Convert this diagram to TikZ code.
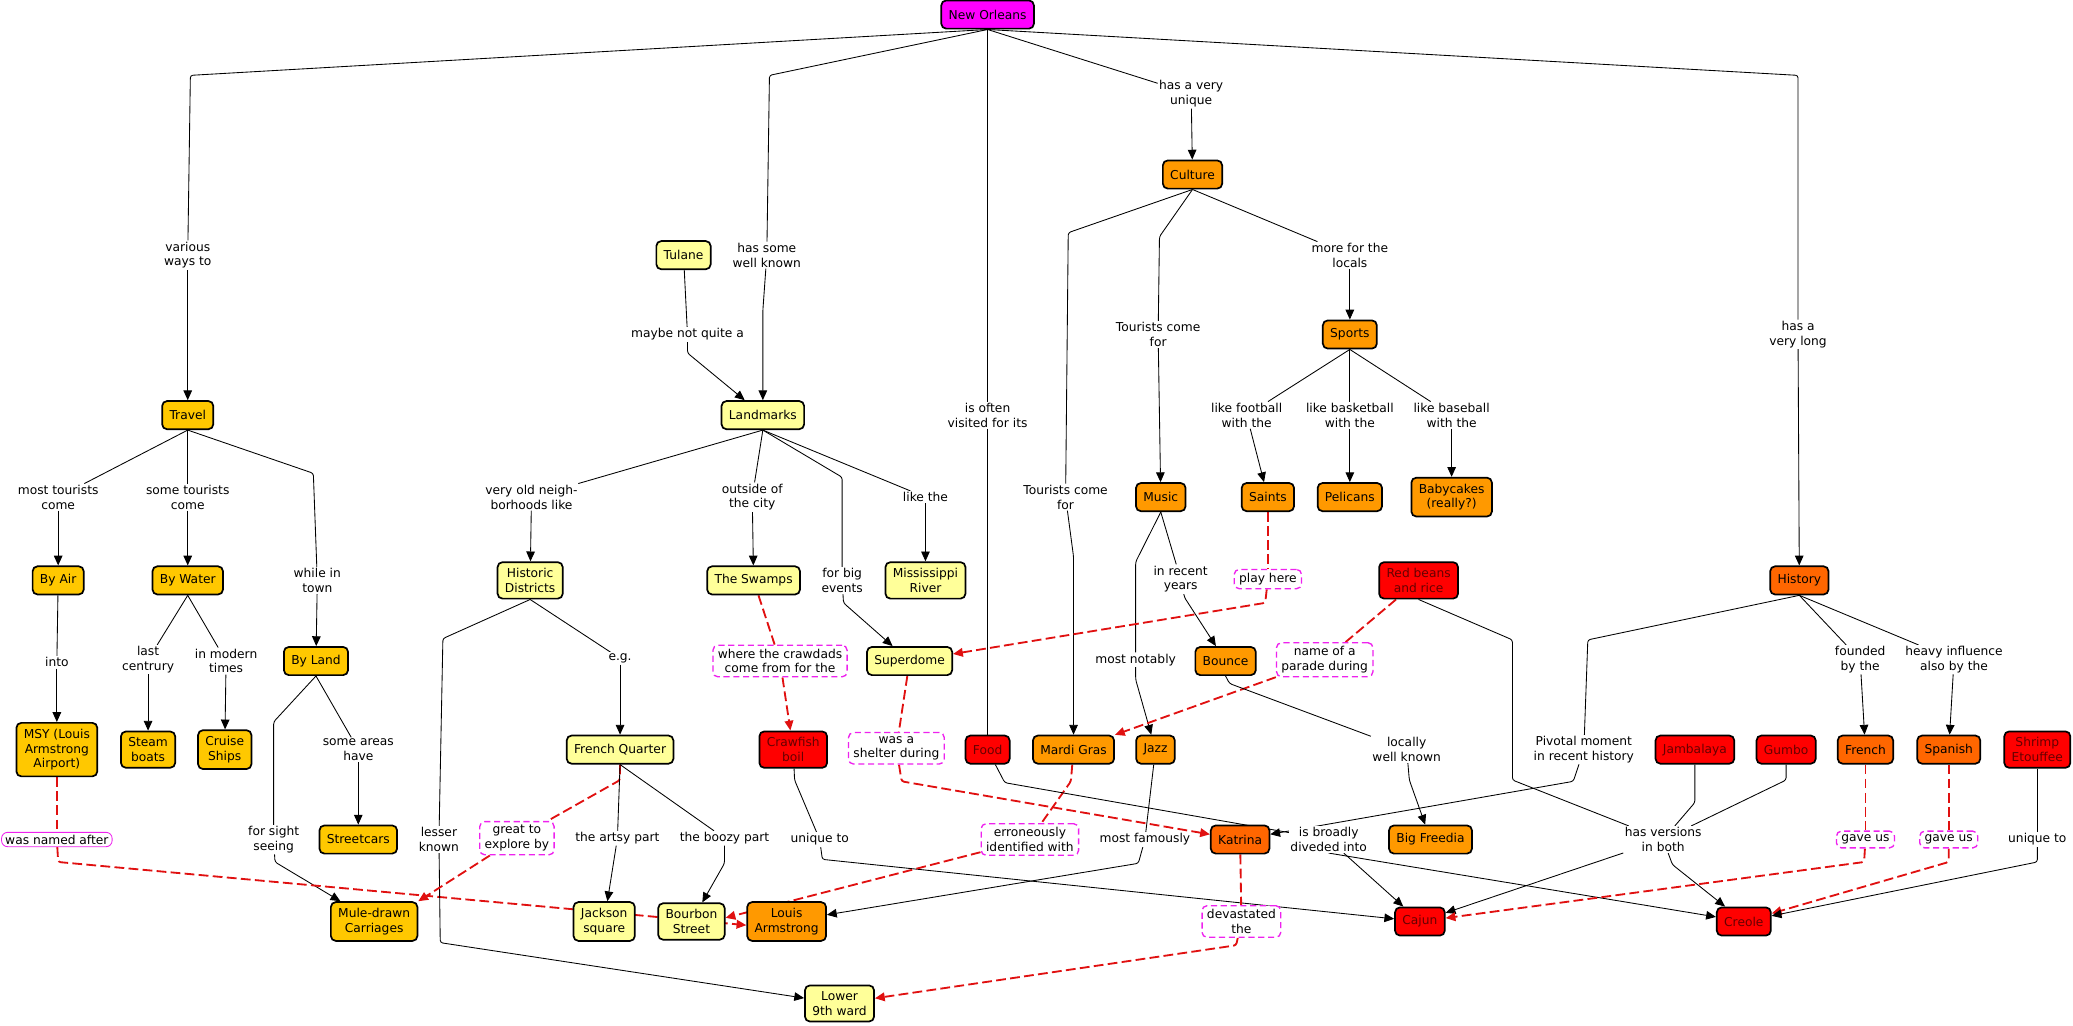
\documentclass[tikz,border=0pt]{standalone}
\usepackage{fontspec}
\setmainfont{DejaVu Sans}
\usetikzlibrary{arrows.meta, backgrounds}
\definecolor{nolaMag}{HTML}{FF00FF}
\definecolor{goldC}{HTML}{FFC800}
\definecolor{paleC}{HTML}{FFFF99}
\definecolor{orangeC}{HTML}{FF9900}
\definecolor{darkOrC}{HTML}{FF6600}
\definecolor{redC}{HTML}{FF0000}
\definecolor{redText}{HTML}{660000}
\definecolor{xMag}{HTML}{EE22EE}
\definecolor{xRed}{HTML}{E01010}
\tikzset{>={Triangle[length=8pt,width=7pt]}}
\tikzstyle{concept} = [rectangle, rounded corners = 4pt, draw = black, line width = 1.4pt, align = center, inner xsep = 6pt, inner ysep = 5pt, minimum height = 23pt]
\tikzstyle{nolaC} = [concept, fill = nolaMag]
\tikzstyle{travelC} = [concept, fill = goldC]
\tikzstyle{placeC} = [concept, fill = paleC]
\tikzstyle{cultC} = [concept, fill = orangeC]
\tikzstyle{histC} = [concept, fill = darkOrC]
\tikzstyle{foodC} = [concept, fill = redC, text = redText]
\tikzstyle{link} = [fill = white, align = center, inner sep = 1pt]
\tikzstyle{xlink} = [rectangle, rounded corners = 4pt, fill = white, draw = xMag, line width = 1.1pt, dash pattern = on 5pt off 3pt, align = center, inner xsep = 4pt, inner ysep = 3pt]
\tikzstyle{namedlink} = [rectangle, rounded corners = 5pt, fill = white, draw = xMag, line width = 0.7pt, align = center, inner xsep = 3pt, inner ysep = 2pt]
\tikzstyle{conn} = [line width = 0.7pt, rounded corners = 2pt]
\tikzstyle{arr} = [conn, ->]
\tikzstyle{xconn} = [xRed, line width = 1.5pt, dash pattern = on 8pt off 3.5pt, rounded corners = 2pt]
\tikzstyle{xarr} = [xconn, -{Triangle[length=8pt,width=7pt]}]
\begin{document}
\begin{tikzpicture}[x = 1.0788pt, y = -1.0788pt]
    \useasboundingbox (0,0) rectangle (1568,776);
    % concepts
    \node (nola) [nolaC] at (747,11) {New Orleans};
    \node (travel) [travelC] at (142,314) {Travel};
    \node (byair) [travelC] at (44,439) {By Air};
    \node (bywater) [travelC] at (142,439) {By Water};
    \node (byland) [travelC] at (239,500) {By Land};
    \node (msy) [travelC] at (43,567) {MSY (Louis\\Armstrong\\Airport)};
    \node (steam) [travelC] at (112,567) {Steam\\boats};
    \node (cruise) [travelC] at (170,567) {Cruise\\Ships};
    \node (streetcars) [travelC] at (271,635) {Streetcars};
    \node (mule) [travelC] at (283,697) {Mule-drawn\\Carriages};
    \node (tulane) [placeC] at (517,193) {Tulane};
    \node (landm) [placeC] at (577,314) {Landmarks};
    \node (histd) [placeC] at (401,439) {Historic\\Districts};
    \node (swamps) [placeC] at (570,439) {The Swamps};
    \node (missriver) [placeC] at (700,439) {Mississippi\\River};
    \node (superdome) [placeC] at (688,500) {Superdome};
    \node (frenchq) [placeC] at (469,567) {French Quarter};
    \node (jackson) [placeC] at (457,697) {Jackson\\square};
    \node (bourbon) [placeC] at (523,697) {Bourbon\\Street};
    \node (lower9) [placeC] at (635,759) {Lower\\9th ward};
    \node (culture) [cultC] at (902,132) {Culture};
    \node (sports) [cultC] at (1021,253) {Sports};
    \node (music) [cultC] at (878,376) {Music};
    \node (saints) [cultC] at (959,376) {Saints};
    \node (pelicans) [cultC] at (1021,376) {Pelicans};
    \node (babycakes) [cultC] at (1098,376) {Babycakes\\(really?)};
    \node (bounce) [cultC] at (927,500) {Bounce};
    \node (mardigras) [cultC] at (812,567) {Mardi Gras};
    \node (jazz) [cultC] at (874,567) {Jazz};
    \node (louis) [cultC] at (595,697) {Louis\\Armstrong};
    \node (bigfreedia) [cultC] at (1082,635) {Big Freedia};
    \node (history) [histC] at (1361,439) {History};
    \node (katrina) [histC] at (938,635) {Katrina};
    \node (french) [histC] at (1411,567) {French};
    \node (spanish) [histC] at (1474,567) {Spanish};
    \node (crawfish) [foodC] at (600,567) {Crawfish\\boil};
    \node (food) [foodC] at (747,567) {Food};
    \node (redbeans) [foodC] at (1073,439) {Red beans\\and rice};
    \node (jambalaya) [foodC] at (1282,567) {Jambalaya};
    \node (gumbo) [foodC] at (1351,567) {Gumbo};
    \node (shrimp) [foodC] at (1541,567) {Shrimp\\Etouffee};
    \node (cajun) [foodC] at (1074,697) {Cajun};
    \node (creole) [foodC] at (1319,697) {Creole};
    % linking phrases
    \node (ways) [link] at (142,193) {various\\ways to};
    \node (wellknown) [link] at (580,193) {has some\\well known};
    \node (visited) [link] at (747,314) {is often\\visited for its};
    \node (unique) [link] at (901,71) {has a very\\unique};
    \node (long) [link] at (1360,253) {has a\\very long};
    \node (mosttour) [link] at (44,376) {most tourists\\come};
    \node (sometour) [link] at (142,376) {some tourists\\come};
    \node (whiletown) [link] at (240,439) {while in\\town};
    \node (into) [link] at (43,501) {into};
    \node (lastcent) [link] at (112,499) {last\\centrury};
    \node (modern) [link] at (171,500) {in modern\\times};
    \node (someareas) [link] at (271,567) {some areas\\have};
    \node (sight) [link] at (207,635) {for sight\\seeing};
    \node (named) [namedlink] at (43,635) {was named after};
    \node (notquite) [link] at (520,253) {maybe not quite a};
    \node (oldneigh) [link] at (402,376) {very old neigh-\\borhoods like};
    \node (outside) [link] at (569,376) {outside of\\the city};
    \node (likethe) [link] at (700,376) {like the};
    \node (bigevents) [link] at (637,439) {for big\\events};
    \node (lesser) [link] at (332,635) {lesser\\known};
    \node (eg) [link] at (469,498) {e.g.};
    \node (explore) [xlink] at (391,634) {great to\\explore by};
    \node (artsy) [link] at (467,634) {the artsy part};
    \node (boozy) [link] at (548,634) {the boozy part};
    \node (crawdads) [xlink] at (590,500) {where the crawdads\\come from for the};
    \node (shelter) [xlink] at (678,566) {was a\\shelter during};
    \node (unique2) [link] at (620,635) {unique to};
    \node (erroneous) [xlink] at (779,635) {erroneously\\identified with};
    \node (tourmusic) [link] at (876,253) {Tourists come\\for};
    \node (tourmardi) [link] at (806,376) {Tourists come\\for};
    \node (locals) [link] at (1021,193) {more for the\\locals};
    \node (football) [link] at (943,314) {like football\\with the};
    \node (basketball) [link] at (1021,314) {like basketball\\with the};
    \node (baseball) [link] at (1098,314) {like baseball\\with the};
    \node (notably) [link] at (859,499) {most notably};
    \node (recent) [link] at (893,438) {in recent\\years};
    \node (playhere) [xlink] at (959,438) {play here};
    \node (parade) [xlink] at (1002,499) {name of a\\parade during};
    \node (famously) [link] at (866,635) {most famously};
    \node (locally) [link] at (1064,567) {locally\\well known};
    \node (broadly) [link] at (1005,635) {is broadly\\diveded into};
    \node (devastated) [xlink] at (939,697) {devastated\\the};
    \node (pivotal) [link] at (1198,567) {Pivotal moment\\in recent history};
    \node (founded) [link] at (1407,499) {founded\\by the};
    \node (heavy) [link] at (1478,499) {heavy influence\\also by the};
    \node (versions) [link] at (1258,635) {has versions\\in both};
    \node (gaveus1) [xlink] at (1411,635) {gave us};
    \node (gaveus2) [xlink] at (1474,635) {gave us};
    \node (unique3) [link] at (1541,635) {unique to};
    \begin{scope}[on background layer]
    % from New Orleans
    \draw [conn] (nola.south) -- (144,57) -- (ways);
    \draw [arr] (ways) -- (travel);
    \draw [conn] (nola.south) -- (582,57) -- (wellknown);
    \draw [arr] (wellknown) -- (577,235) -- (landm);
    \draw [conn] (nola.south) -- (visited);
    \draw [conn] (visited) -- (food);
    \draw [conn] (nola.south) -- (unique);
    \draw [arr] (unique) -- (culture);
    \draw [conn] (nola.south) -- (1360,57) -- (long);
    \draw [arr] (long) -- (history);
    % travel
    \draw [conn] (travel.south) -- (mosttour);
    \draw [arr] (mosttour) -- (byair);
    \draw [conn] (travel.south) -- (sometour);
    \draw [arr] (sometour) -- (bywater);
    \draw [conn] (travel.south) -- (237,358) -- (whiletown);
    \draw [arr] (whiletown) -- (byland);
    \draw [conn] (byair) -- (into);
    \draw [arr] (into) -- (msy);
    \draw [conn] (bywater.south) -- (lastcent);
    \draw [arr] (lastcent) -- (steam);
    \draw [conn] (bywater.south) -- (modern);
    \draw [arr] (modern) -- (cruise);
    \draw [conn] (byland.south) -- (207,546) -- (sight);
    \draw [arr] (sight) -- (208,652) -- (mule);
    \draw [conn] (byland.south) -- (someareas);
    \draw [arr] (someareas) -- (streetcars);
    \draw [xconn] (msy) -- (named);
    \draw [xarr] (named) -- (44,652) -- ([yshift=-3pt]louis.west);
    % landmarks
    \draw [conn] (tulane) -- (notquite);
    \draw [arr] (notquite) -- (520,267) -- (landm);
    \draw [conn] (landm.south) -- (oldneigh);
    \draw [arr] (oldneigh) -- (histd);
    \draw [conn] (landm.south) -- (outside);
    \draw [arr] (outside) -- (swamps);
    \draw [conn] (landm.south) -- (637,361) -- (bigevents);
    \draw [arr] (bigevents) -- (638,456) -- (superdome);
    \draw [conn] (landm.south) -- (likethe);
    \draw [arr] (likethe) -- (missriver);
    \draw [conn] (histd.south) -- (335,483) -- (lesser);
    \draw [arr] (lesser) -- (333,713) -- (lower9);
    \draw [conn] (histd.south) -- (eg);
    \draw [arr] (eg) -- (frenchq);
    \draw [xconn] (frenchq.south) -- (469,590) -- (explore);
    \draw [xarr] (explore) -- (mule.north east);
    \draw [conn] (frenchq.south) -- (artsy);
    \draw [arr] (artsy) -- (jackson);
    \draw [conn] (frenchq.south) -- (boozy);
    \draw [arr] (boozy) -- (548,653) -- (bourbon);
    \draw [xconn] (swamps) -- (crawdads);
    \draw [xarr] (crawdads) -- (crawfish);
    \draw [xconn] (superdome) -- (shelter);
    \draw [xarr] (shelter) -- (682,591) -- (katrina);
    \draw [conn] (crawfish) -- (601,590) -- (unique2);
    \draw [arr] (unique2) -- (622,650) -- (cajun);
    % culture
    \draw [conn] (culture.south) -- (808,176) -- (tourmardi);
    \draw [arr] (tourmardi) -- (812,421) -- (mardigras);
    \draw [conn] (culture.south) -- (877,179) -- (tourmusic);
    \draw [arr] (tourmusic) -- (music);
    \draw [conn] (culture.south) -- (locals);
    \draw [arr] (locals) -- (sports);
    \draw [conn] (sports.south) -- (football);
    \draw [arr] (football) -- (saints);
    \draw [conn] (sports.south) -- (basketball);
    \draw [arr] (basketball) -- (pelicans);
    \draw [conn] (sports.south) -- (baseball);
    \draw [arr] (baseball) -- (babycakes);
    \draw [conn] (music.south) -- (859,425) -- (notably);
    \draw [arr] (notably) -- (859,514) -- (jazz);
    \draw [conn] (music.south) -- (recent);
    \draw [arr] (recent) -- (896,452) -- (bounce);
    \draw [xconn] (saints) -- (playhere);
    \draw [xarr] (playhere) -- (957,456) -- (superdome);
    \draw [xconn] (redbeans) -- (parade);
    \draw [xarr] (parade) -- (mardigras);
    \draw [conn] (bounce.south) -- (930,517) -- (locally);
    \draw [arr] (locally) -- (1066,590) -- (bigfreedia);
    \draw [conn] (jazz) -- (famously);
    \draw [arr] (famously) -- (861,653) -- (louis);
    \draw [xconn] (mardigras) -- (810,591) -- (erroneous);
    \draw [xarr] (erroneous) -- ([yshift=3pt]bourbon.east);
    % food
    \draw [conn] (food) -- (760,592) -- (broadly);
    \draw [arr] (broadly) -- (cajun);
    \draw [arr] (broadly.south) -- (creole);
    \draw [conn] (redbeans.south) -- (1144,484) -- (1144,590) -- (versions);
    \draw [conn] (jambalaya) -- (1282,607) -- (versions);
    \draw [conn] (gumbo) -- (1351,590) -- (versions);
    \draw [arr] (versions) -- (cajun);
    \draw [arr] (versions) -- (1265,654) -- (creole);
    % history
    \draw [conn] (history.south) -- (1201,484) -- (pivotal);
    \draw [arr] (pivotal) -- (1190,591) -- (katrina);
    \draw [conn] (history.south) -- (founded);
    \draw [arr] (founded) -- (french);
    \draw [conn] (history.south) -- (heavy);
    \draw [arr] (heavy) -- (spanish);
    \draw [xconn] (french) -- (gaveus1);
    \draw [xarr] (gaveus1) -- (1410,652) -- (cajun);
    \draw [xconn] (spanish) -- (gaveus2);
    \draw [xarr] (gaveus2) -- (1474,652) -- (creole);
    \draw [conn] (shrimp) -- (unique3);
    \draw [arr] (unique3) -- (1541,652) -- (creole);
    \draw [xconn] (katrina) -- (devastated);
    \draw [xarr] (devastated) -- (935,715) -- (lower9);
    \end{scope}
\end{tikzpicture}
\end{document}
